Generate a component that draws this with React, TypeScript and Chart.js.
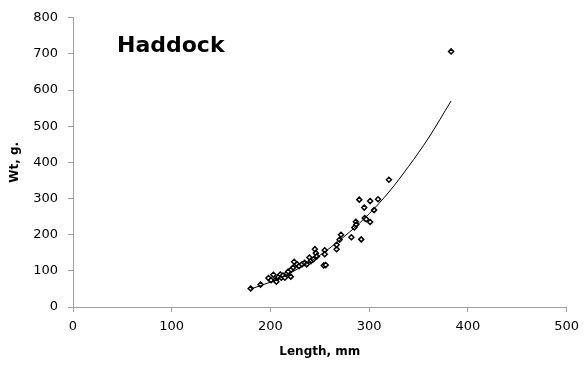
import React, { useEffect, useRef } from "react";
import { Chart, registerables } from "chart.js";

Chart.register(...registerables);

// Observed fish: length (mm) and weight (g)
const lengths = [180, 190, 198, 200.7, 203, 205, 206, 208, 210, 211, 212.7, 214.6, 216.5, 218, 220.6, 221, 223, 224, 227, 229, 232, 234.6, 236.8, 239.5, 241, 243.6, 245, 246, 247, 254, 256, 255, 255, 267, 267, 270, 271.5, 282, 285, 286.5, 287, 290, 292, 295, 295.5, 297, 301, 301, 305, 309, 320, 383];
const weights = [51, 62, 80, 74, 89, 74, 70, 83, 90, 81, 87, 81, 92, 98, 84, 103, 109, 125, 118, 113, 118, 122, 118, 137, 127, 132, 160, 149, 140, 115, 116, 157, 146, 160, 172, 186, 200, 193, 220, 236, 228, 297, 187, 275, 246, 243, 293, 235, 268, 298, 352, 707];

// Trend line
const trendX = [180, 200, 220, 250, 280, 300, 320, 340, 360, 383];
const trendY = [50, 69, 94, 143, 207, 258, 318, 389, 467, 570];

const xTicks = [0, 100, 200, 300, 400, 500];
const yTicks = [0, 100, 200, 300, 400, 500, 600, 700, 800];

const chartTitle = "Haddock";
const xTitle = "Length, mm";
const yTitle = "Wt, g.";

const FONT = "'DejaVu Sans', sans-serif";

export default function App() {
  const ref = useRef<HTMLCanvasElement | null>(null);
  useEffect(() => {
    if (!ref.current) return;
    const pts = lengths.map((x, i) => ({ x, y: weights[i] }));
    const trend = trendX.map((x, i) => ({ x, y: trendY[i] }));
    const axisColor = "#a0a0a0";
    const chart = new Chart(ref.current, {
      type: "scatter",
      data: {
        datasets: [
          {
            type: "line",
            data: trend,
            borderColor: "#000",
            borderWidth: 1,
            pointRadius: 0,
            tension: 0.4,
            cubicInterpolationMode: "monotone",
            fill: false,
            showLine: true,
          } as any,
          {
            data: pts,
            pointStyle: "rectRot",
            pointRadius: 2.5,
            pointBorderWidth: 1.5,
            pointBorderColor: "#000",
            pointBackgroundColor: "#fff",
            borderColor: "#000",
            backgroundColor: "#fff",
          },
        ],
      },
      options: {
        responsive: false,
        animation: false,
        layout: { padding: { top: 17, right: 16, left: 0, bottom: 0 } },
        plugins: { legend: { display: false }, tooltip: { enabled: false } },
        scales: {
          x: {
            type: "linear",
            min: 0,
            max: 500,
            afterBuildTicks: (s: any) => {
              s.ticks = xTicks.map((v) => ({ value: v }));
            },
            afterFit: (s: any) => {
              s.height = 62;
            },
            ticks: {
              color: "#000",
              font: { family: FONT, size: 13 },
              padding: 7,
              maxRotation: 0,
              autoSkip: false,
            },
            grid: {
              drawOnChartArea: false,
              drawTicks: true,
              tickLength: 5,
              color: axisColor,
            },
            border: { color: axisColor, width: 1 },
            title: {
              display: true,
              text: xTitle,
              color: "#000",
              font: { family: FONT, size: 12, weight: "bold" },
              padding: { top: 0, bottom: 10 },
            },
          },
          y: {
            type: "linear",
            min: 0,
            max: 800,
            afterBuildTicks: (s: any) => {
              s.ticks = yTicks.map((v) => ({ value: v }));
            },
            afterFit: (s: any) => {
              s.width = 73;
            },
            ticks: {
              color: "#000",
              font: { family: FONT, size: 13 },
              padding: 10,
              autoSkip: false,
            },
            grid: {
              drawOnChartArea: false,
              drawTicks: true,
              tickLength: 5,
              color: axisColor,
            },
            border: { color: axisColor, width: 1 },
            title: {
              display: true,
              text: yTitle,
              color: "#000",
              font: { family: FONT, size: 12, weight: "bold" },
              padding: { top: 8, bottom: 0 },
            },
          },
        },
      },
    });
    return () => chart.destroy();
  }, []);

  return (
    <div style={{ position: "absolute", left: 0, top: 0, width: 586, height: 369, background: "#fff" }}>
      <canvas ref={ref} width={586} height={369} style={{ width: 586, height: 369, display: "block" }} />
      <div
        style={{
          position: "absolute",
          left: 117,
          top: 34,
          fontFamily: FONT,
          fontWeight: "bold",
          fontSize: 22,
          lineHeight: "22px",
          color: "#000",
          whiteSpace: "nowrap",
        }}
      >
        {chartTitle}
      </div>
    </div>
  );
}
